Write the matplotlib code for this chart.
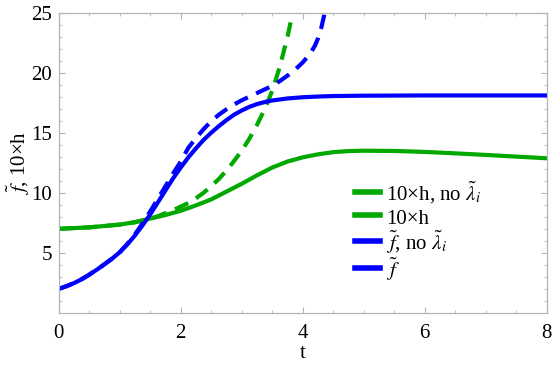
import matplotlib
matplotlib.use("Agg")
import matplotlib.pyplot as plt
from matplotlib.ticker import MultipleLocator

plt.rcParams['font.family'] = ['Liberation Serif', 'DejaVu Serif']
plt.rcParams['mathtext.fontset'] = 'stix'

# data
t_f = [0, 0.125, 0.25, 0.375, 0.5, 0.625, 0.75, 0.875, 1.0, 1.125, 1.25, 1.375, 1.5,
       1.625, 1.75, 1.875, 2.0, 2.125, 2.25, 2.375, 2.5, 2.625, 2.75, 2.875, 3.0,
       3.125, 3.25, 3.375, 3.5, 3.75, 4.0, 4.25, 4.5, 5.0, 6.0, 8.0]
f_full = [2.0, 2.22, 2.48, 2.8, 3.18, 3.6, 4.05, 4.52, 5.05, 5.7, 6.45, 7.3, 8.2,
          9.2, 10.2, 11.2, 12.1, 12.95, 13.7, 14.4, 15.0, 15.55, 16.05, 16.5, 16.85,
          17.15, 17.38, 17.55, 17.68, 17.85, 17.95, 18.01, 18.05, 18.08, 18.1, 18.1]

t_f_nolam = [0, 0.125, 0.25, 0.375, 0.5, 0.625, 0.75, 0.875, 1.0, 1.125, 1.25, 1.375, 1.5,
             1.625, 1.75, 1.875, 2.0, 2.125, 2.25, 2.375, 2.5, 2.625, 2.75, 2.875, 3.0,
             3.125, 3.25, 3.375, 3.5, 3.625, 3.75, 3.875, 4.0, 4.125, 4.2, 4.25, 4.3,
             4.35, 4.4, 4.45]
f_nolam = [2.0, 2.22, 2.48, 2.8, 3.18, 3.6, 4.05, 4.52, 5.05, 5.75, 6.55, 7.45, 8.45,
           9.5, 10.55, 11.6, 12.6, 13.75, 14.55, 15.3, 15.95, 16.5, 16.95, 17.35, 17.7,
           18.0, 18.3, 18.6, 18.9, 19.3, 19.75, 20.25, 20.85, 21.6, 22.25, 22.85, 23.65,
           24.75, 26.1, 27.6]

t_h = [0, 0.5, 1.0, 1.25, 1.5, 1.75, 2.0, 2.25, 2.5, 2.75, 3.0, 3.25, 3.5, 3.75, 4.0,
       4.25, 4.5, 4.75, 5.0, 5.5, 6.0, 6.5, 7.0, 7.5, 8.0]
h_full = [7.0, 7.12, 7.35, 7.55, 7.85, 8.15, 8.5, 8.95, 9.45, 10.1, 10.75, 11.45, 12.1,
          12.6, 12.95, 13.2, 13.38, 13.47, 13.5, 13.48, 13.4, 13.28, 13.15, 13.01, 12.87]

t_h_nolam = [0, 0.5, 1.0, 1.25, 1.5, 1.625, 1.75, 1.875, 2.0, 2.125, 2.25, 2.375, 2.5,
             2.625, 2.75, 2.875, 3.0, 3.125, 3.25, 3.375, 3.5, 3.625, 3.75, 3.875]
h_nolam = [7.0, 7.12, 7.35, 7.55, 7.85, 8.05, 8.3, 8.55, 8.85, 9.15, 9.55, 10.0, 10.55,
           11.15, 11.85, 12.65, 13.5, 14.5, 15.65, 16.95, 18.5, 20.5, 23.0, 25.9]

labels = [r'10×h, no $\tilde{\lambda}_i$', '10×h',
          r'$\tilde{f}$, no $\tilde{\lambda}_i$', r'$\tilde{f}$']

green = '#00a800'
blue = '#0000ff'
dash = (0, (3.5, 2.2))

fig = plt.figure(figsize=(5.54, 3.69), dpi=100)
ax = fig.add_axes([0.106, 0.152, 0.881, 0.814])

ax.plot(t_h, h_full, color=green, lw=3, label=labels[0])
ax.plot(t_h_nolam, h_nolam, color=green, lw=3, ls=dash, label=labels[1])
ax.plot(t_f, f_full, color=blue, lw=3, label=labels[2])
ax.plot(t_f_nolam, f_nolam, color=blue, lw=3, ls=dash, label=labels[3])

ax.set_xlim(0, 8)
ax.set_ylim(0, 25)
ax.xaxis.set_major_locator(MultipleLocator(2))
ax.xaxis.set_minor_locator(MultipleLocator(0.5))
ax.yaxis.set_minor_locator(MultipleLocator(1))
ax.set_yticks([5, 10, 15, 20, 25])

for s in ax.spines.values():
    s.set_color('#b4b4b4')
    s.set_linewidth(0.9)
ax.tick_params(which='both', direction='in', color='#b4b4b4', top=True, right=True,
               labelsize=15)
ax.tick_params(axis='x', pad=8)
ax.tick_params(axis='y', pad=5)
ax.tick_params(which='major', length=4.5)
ax.tick_params(which='minor', length=2.5)

ax.set_xlabel('t', fontsize=15, labelpad=1)
ax.set_ylabel(r'$\tilde{f}$, 10×h', fontsize=15)
ax.yaxis.set_label_coords(-0.055, 0.5)

leg = fig.legend(loc='center left', bbox_to_anchor=(0.641, 0.372), frameon=False,
                 fontsize=15, handlelength=1.2, handletextpad=0.3, handleheight=1.25,
                 labelspacing=0.0, borderpad=0, borderaxespad=0)
for ln in leg.get_lines():
    ln.set_linestyle('-')
    ln.set_linewidth(4)

fig.savefig('out.png', dpi=100)
